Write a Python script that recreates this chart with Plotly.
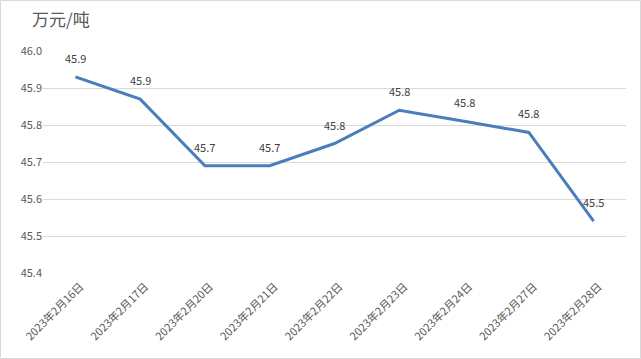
import plotly.graph_objects as go

categories = ["2023年2月16日", "2023年2月17日", "2023年2月20日", "2023年2月21日",
              "2023年2月22日", "2023年2月23日", "2023年2月24日", "2023年2月27日",
              "2023年2月28日"]
prices = [45.93, 45.87, 45.69, 45.69, 45.75, 45.84, 45.81, 45.78, 45.54]
labels = ["45.9", "45.9", "45.7", "45.7", "45.8", "45.8", "45.8", "45.8", "45.5"]
y_ticks = [45.4, 45.5, 45.6, 45.7, 45.8, 45.9, 46.0]
y_tick_text = ["45.4", "45.5", "45.6", "45.7", "45.8", "45.9", "46.0"]
unit = "万元/吨"

W, H = 641, 359
ML, MR, MT, MB = 43, 15, 51, 86
FONT = "Microsoft YaHei, Noto Sans CJK SC, sans-serif"

fig = go.Figure()
fig.add_trace(go.Scatter(
    x=categories, y=prices, mode="lines",
    line=dict(color="#4a7ebb", width=3),
    hoverinfo="x+y", showlegend=False,
))

for c, v, t in zip(categories, prices, labels):
    fig.add_annotation(x=c, y=v, text=t, showarrow=False, yshift=19,
                       font=dict(size=11, color="#404040", family=FONT))

pw = W - ML - MR
ph = H - MT - MB

fig.add_annotation(xref="paper", yref="paper", x=(30 - ML) / pw, y=1.0,
                   xanchor="left", yanchor="bottom", yshift=18,
                   text=unit, showarrow=False,
                   font=dict(size=17, color="#595959", family=FONT))

fig.add_shape(type="rect", xref="paper", yref="paper",
              x0=(0.5 - ML) / pw, x1=(W - 0.5 - ML) / pw,
              y0=-(MB - 0.5) / ph, y1=1 + (MT - 0.5) / ph,
              line=dict(color="#d9d9d9", width=1))

fig.update_layout(
    width=W, height=H,
    margin=dict(l=ML, r=MR, t=MT, b=MB, autoexpand=False),
    paper_bgcolor="white", plot_bgcolor="white",
    font=dict(family=FONT, color="#595959", size=11),
    xaxis=dict(type="category", showgrid=False, showline=False, zeroline=False,
               ticks="", tickangle=-45, automargin=False,
               ticklabelshift=5, ticklabelstandoff=4,
               tickfont=dict(size=11, color="#595959"),
               range=[-0.5, len(categories) - 0.5]),
    yaxis=dict(range=[45.4, 46.0], tickvals=y_ticks, ticktext=y_tick_text,
               showgrid=True, gridcolor="#d9d9d9", gridwidth=1, automargin=False,
               zeroline=False, showline=False, ticks="",
               tickfont=dict(size=11, color="#595959")),
)

fig.write_html("out.html", config={"displayModeBar": False},
               post_script="document.body.style.margin='0';document.body.style.overflow='hidden';")
